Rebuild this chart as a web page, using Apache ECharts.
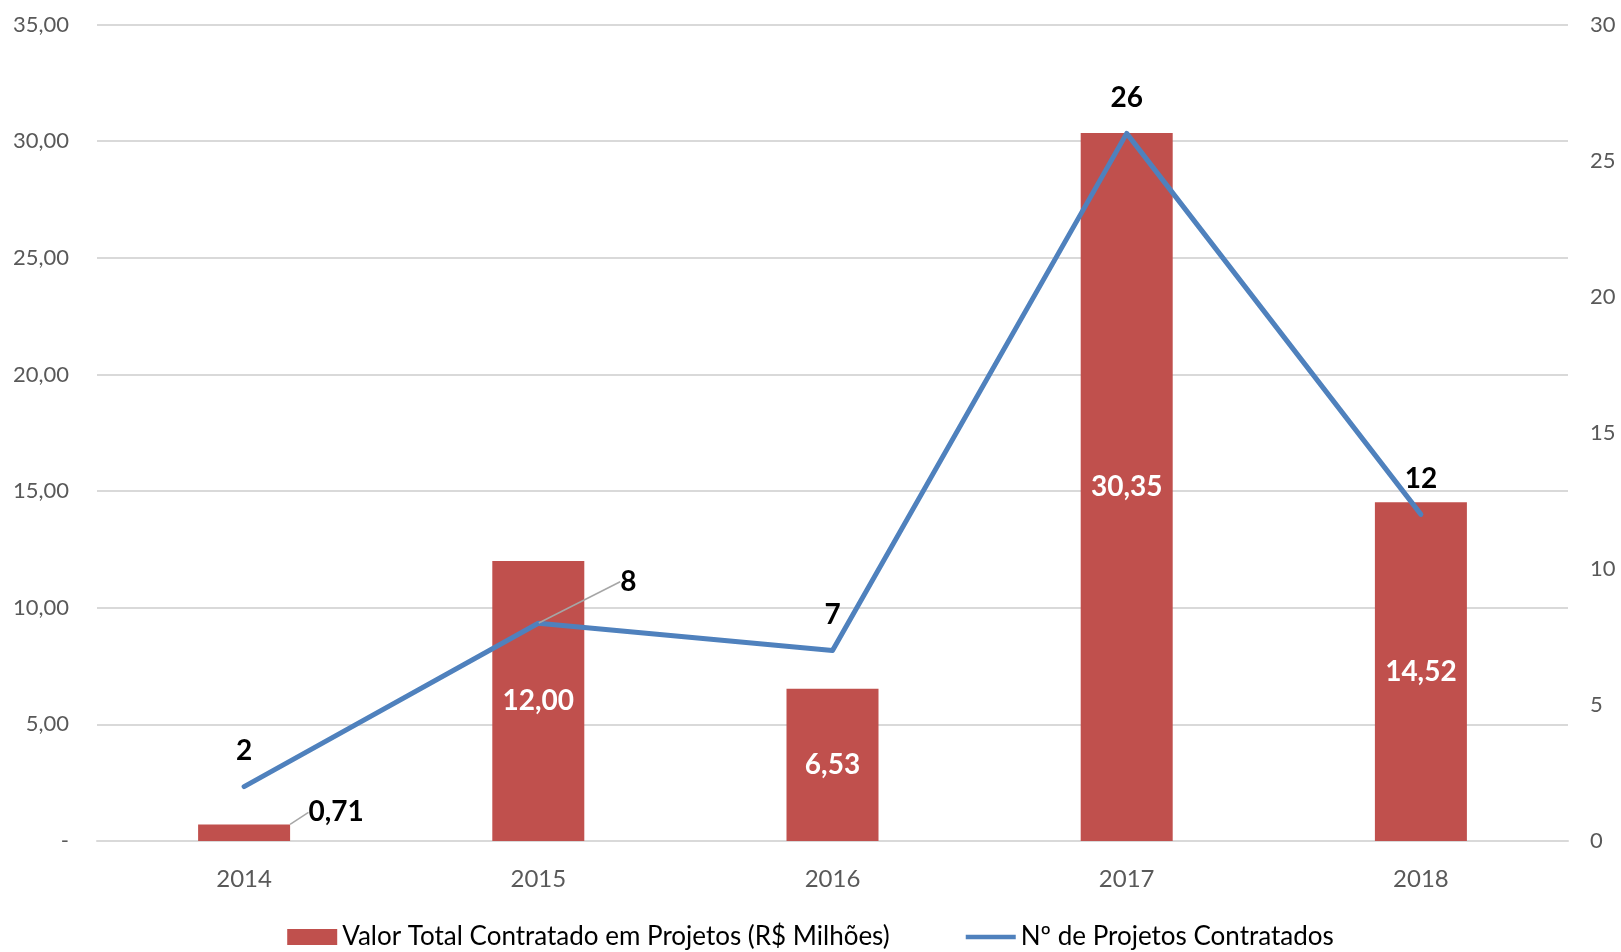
<!DOCTYPE html>
<html>
<head>
<meta charset="utf-8">
<script src="https://cdn.jsdelivr.net/npm/echarts@6/dist/echarts.min.js"></script>
<style>
  html, body { margin: 0; padding: 0; background: #fff; }
  #main { width: 1621px; height: 952px; }
</style>
</head>
<body>
<div id="main"></div>
<script>
const anos = ['2014', '2015', '2016', '2017', '2018']
const valorContratado = [0.71, 12.00, 6.53, 30.35, 14.52]
const numProjetos = [2, 8, 7, 26, 12]
const nomeValor = 'Valor Total Contratado em Projetos (R$ Milhões)'
const nomeProjetos = 'Nº de Projetos Contratados'

const fonte = 'Lato, "Open Sans", sans-serif'
const fmt = v => v.toFixed(2).replace('.', ',')

let myChart = echarts.init(document.getElementById('main'))

let option = {
  animation: false,
  textStyle: { fontFamily: fonte },
  grid: { left: 97, right: 53, top: 24.5, bottom: 111, containLabel: false },
  legend: {
    bottom: -3,
    left: 'center',
    itemWidth: 50,
    itemHeight: 16,
    itemGap: 76,
    textStyle: { fontSize: 26, color: '#000', fontFamily: fonte },
    data: [
      { name: nomeValor, icon: 'rect' },
      { name: nomeProjetos, icon: 'path://M0,0 L58,0 L58,5 L0,5 Z' }
    ]
  },
  xAxis: {
    type: 'category',
    data: anos,
    axisLine: { lineStyle: { color: '#d9d9d9', width: 2 } },
    axisTick: { show: false },
    axisLabel: { fontSize: 24, color: '#595959', margin: 26 }
  },
  yAxis: [
    {
      type: 'value',
      min: 0, max: 35, interval: 5,
      axisLabel: {
        fontSize: 22, color: '#595959', margin: 28,
        formatter: v => v === 0 ? '-' : fmt(v)
      },
      splitLine: { lineStyle: { color: '#d9d9d9', width: 2 } }
    },
    {
      type: 'value',
      min: 0, max: 30, interval: 5,
      axisLabel: { fontSize: 22, color: '#595959', margin: 22 },
      splitLine: { show: false }
    }
  ],
  series: [
    {
      name: nomeValor,
      type: 'bar',
      barWidth: 92,
      itemStyle: { color: '#C0504D' },
      label: {
        show: true,
        position: 'inside',
        color: '#fff',
        fontWeight: 'bold',
        fontSize: 28,
        formatter: p => fmt(p.value)
      },
      data: valorContratado.map((v, i) => i === 0 ? {
        value: v,
        label: { position: 'top', color: '#000' },
        labelLine: { show: true, lineStyle: { color: '#a6a6a6', width: 1.5 } }
      } : v),
      labelLayout: p => p.dataIndex === 0 ? { dx: 92, dy: 7 } : {}
    },
    {
      name: nomeProjetos,
      type: 'line',
      yAxisIndex: 1,
      z: 5,
      symbol: 'circle',
      symbolSize: 1,
      itemStyle: { color: '#4F81BD' },
      lineStyle: { color: '#4F81BD', width: 5, cap: 'round', join: 'round' },
      label: {
        show: true,
        position: 'top',
        distance: 21,
        color: '#000',
        fontWeight: 'bold',
        fontSize: 28
      },
      data: numProjetos.map((v, i) => i === 1 ? {
        value: v,
        label: { distance: 5 },
        labelLine: { show: true, lineStyle: { color: '#a6a6a6', width: 1.5 } }
      } : v),
      labelLayout: p => p.dataIndex === 1 ? { dx: 90, dy: -22 } : {}
    }
  ]
}

myChart.setOption(option)
</script>
</body>
</html>
